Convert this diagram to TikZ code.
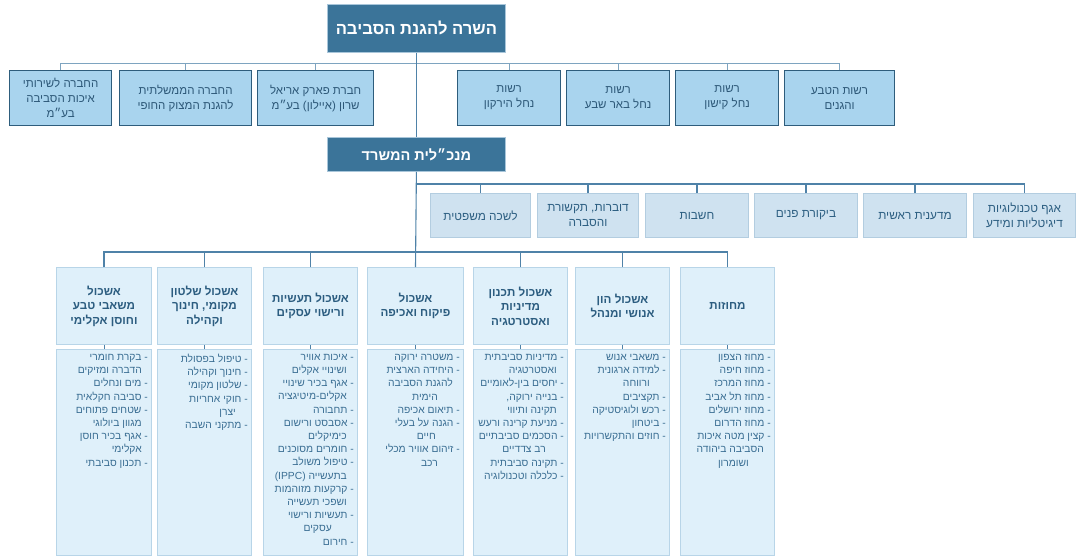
\documentclass[tikz,border=0pt]{standalone}
\usepackage{fontspec}
\setmainfont{Liberation Sans}
\newfontfamily\heb[Script=Hebrew]{Liberation Sans}
\TeXXeTstate=1
\newcommand\RL[1]{\beginR #1\endR}
\newcommand\ind[1]{\hspace*{#1pt}}
\definecolor{dk}{HTML}{3B7499}
\definecolor{dkline}{HTML}{A9C6DA}
\definecolor{rowfill}{HTML}{A9D4EE}
\definecolor{rowline}{HTML}{2E5D7C}
\definecolor{rowtxt}{HTML}{2D5878}
\definecolor{stfill}{HTML}{CFE2F0}
\definecolor{stline}{HTML}{B3CDE0}
\definecolor{sttxt}{HTML}{2D5F82}
\definecolor{hdfill}{HTML}{DFF0FA}
\definecolor{hdline}{HTML}{B8D5E8}
\definecolor{hdtxt}{HTML}{2C5D80}
\definecolor{bdtxt}{HTML}{3A6E93}
\definecolor{conn}{HTML}{4F82A8}
\definecolor{connlt}{HTML}{7EA4C0}
\tikzset{
  box/.style={anchor=north west, inner sep=0pt, align=center},
  dark/.style={box, fill=dk, draw=dkline, line width=0.8pt, text=white, font=\heb\bfseries},
  rowbox/.style={box, fill=rowfill, draw=rowline, line width=1.2pt, text=rowtxt, font=\heb\fontsize{11.5}{15}\selectfont},
  staffbox/.style={box, fill=stfill, draw=stline, line width=1pt, text=sttxt, font=\heb\fontsize{11.8}{15}\selectfont},
  headbox/.style={box, fill=hdfill, draw=hdline, line width=1pt, text=hdtxt, font=\heb\bfseries\fontsize{11.6}{14.5}\selectfont},
  bodybox/.style={box, fill=hdfill, draw=hdline, line width=1pt},
  bodytxt/.style={anchor=north east, inner sep=0pt, align=right, text=bdtxt, font=\heb\fontsize{10.3}{13.2}\selectfont},
  link/.style={draw=conn, line width=1.1pt},
  linklt/.style={draw=connlt, line width=1pt},
}
\begin{document}
\begin{tikzpicture}[x=1pt,y=-1pt]
\useasboundingbox (0,0) rectangle (1076,555);
% top
\node[dark, minimum width=178pt, minimum height=48pt, font=\heb\bfseries\fontsize{16.6}{20}\selectfont] (min) at (327,4) {\RL{השרה להגנת הסביבה}};
% row one
\node[rowbox, minimum width=102pt, minimum height=55pt] (A) at (9,70) {\RL{החברה לשירותי}\\\RL{איכות הסביבה}\\\RL{בע״מ}};
\node[rowbox, minimum width=132pt, minimum height=55pt] (B) at (119,70) {\RL{החברה הממשלתית}\\\RL{להגנת המצוק החופי}};
\node[rowbox, minimum width=116pt, minimum height=55pt] (C) at (257,70) {\RL{חברת פארק אריאל}\\\RL{שרון (איילון) בע״מ}};
\node[rowbox, minimum width=103pt, minimum height=55pt] (D) at (457,70) {\RL{רשות}\\\RL{נחל הירקון}};
\node[rowbox, minimum width=103pt, minimum height=55pt] (E) at (566,70) {\RL{רשות}\\\RL{נחל באר שבע}};
\node[rowbox, minimum width=103pt, minimum height=55pt] (F) at (675,70) {\RL{רשות}\\\RL{נחל קישון}};
\node[rowbox, minimum width=110pt, minimum height=55pt] (G) at (784,70) {\RL{רשות הטבע}\\\RL{והגנים}};
\draw[linklt] (A.north) -- ++(0,-7) -| (G.north);
\foreach \n in {B,C,D,E,F}{\draw[linklt] (\n.north) -- ++(0,-7);}
% director
\node[dark, minimum width=178pt, minimum height=34pt, font=\heb\bfseries\fontsize{14.5}{17}\selectfont] (dir) at (327,137) {\RL{מנכ״לית המשרד}};
\draw[link] (min.south) -- (dir.north);
% staff
\node[staffbox, minimum width=100pt, minimum height=44pt] (S1) at (430,193) {\RL{לשכה משפטית}};
\node[staffbox, minimum width=101pt, minimum height=44pt] (S2) at (537,193) {\RL{דוברות, תקשורת}\\\RL{והסברה}};
\node[staffbox, minimum width=103pt, minimum height=44pt] (S3) at (645,193) {\RL{חשבות}};
\node[staffbox, minimum width=103pt, minimum height=44pt] (S4) at (754,193) {\RL{ביקורת פנים}};
\node[staffbox, minimum width=103pt, minimum height=44pt] (S5) at (863,193) {\RL{מדענית ראשית}};
\node[staffbox, minimum width=102pt, minimum height=44pt] (S6) at (973,193) {\RL{אגף טכנולוגיות}\\\RL{דיגיטליות ומידע}};
\draw[link] (S6.north) -- ++(0,-9) coordinate (sr) -- (sr -| dir.south);
\foreach \n in {S1,S2,S3,S4,S5}{\draw[link] (\n.north) -- ++(0,-9);}
% clusters
\node[headbox, minimum width=95pt, minimum height=77pt] (H1) at (56,267) {\RL{אשכול}\\\RL{משאבי טבע}\\\RL{וחוסן אקלימי}};
\node[headbox, minimum width=94pt, minimum height=77pt] (H2) at (157,267) {\RL{אשכול שלטון}\\\RL{מקומי, חינוך}\\\RL{וקהילה}};
\node[headbox, minimum width=94pt, minimum height=77pt] (H3) at (263,267) {\RL{אשכול תעשיות}\\\RL{ורישוי עסקים}};
\node[headbox, minimum width=96pt, minimum height=77pt] (H4) at (367,267) {\RL{אשכול}\\\RL{פיקוח ואכיפה}};
\node[headbox, minimum width=94pt, minimum height=77pt] (H5) at (473,267) {\RL{אשכול תכנון}\\\RL{מדיניות}\\\RL{ואסטרטגיה}};
\node[headbox, minimum width=94pt, minimum height=77pt] (H6) at (575,267) {\RL{אשכול הון}\\\RL{אנושי ומנהל}};
\node[headbox, minimum width=94pt, minimum height=77pt] (H7) at (680,267) {\RL{מחוזות}};
\draw[link] (dir.south) -- (H4.north);
\draw[link] (H1.north) -- ++(0,-15) -| (H7.north);
\foreach \n in {H2,H3,H5,H6}{\draw[link] (\n.north) -- ++(0,-15);}
% bodies
\node[bodybox, minimum width=95pt, minimum height=206pt] (B1) at (56,349) {};
\node[bodybox, minimum width=94pt, minimum height=206pt] (B2) at (157,349) {};
\node[bodybox, minimum width=94pt, minimum height=206pt] (B3) at (263,349) {};
\node[bodybox, minimum width=96pt, minimum height=206pt] (B4) at (367,349) {};
\node[bodybox, minimum width=94pt, minimum height=206pt] (B5) at (473,349) {};
\node[bodybox, minimum width=94pt, minimum height=206pt] (B6) at (575,349) {};
\node[bodybox, minimum width=94pt, minimum height=206pt] (B7) at (680,349) {};
\foreach \i in {1,...,7}{\draw[link, line width=0.9pt] (H\i.south) -- (B\i.north);}
\node[bodytxt] (T1) at ([xshift=-4pt,yshift=-5pt]B1.north east) {\RL{- בקרת חומרי}\\\RL{\ind{6}הדברה ומזיקים}\\\RL{- מים ונחלים}\\\RL{- סביבה חקלאית}\\\RL{- שטחים פתוחים}\\\RL{\ind{6}מגוון ביולוגי}\\\RL{- אגף בכיר חוסן}\\\RL{\ind{6}אקלימי}\\\RL{- תכנון סביבתי}};
\node[bodytxt] (T2) at ([xshift=-4pt,yshift=-5pt]B2.north east) {\RL{- טיפול בפסולת}\\\RL{- חינוך וקהילה}\\\RL{- שלטון מקומי}\\\RL{- חוקי אחריות}\\\RL{\ind{12}יצרן}\\\RL{- מתקני השבה}};
\node[bodytxt] (T3) at ([xshift=-4pt,yshift=-5pt]B3.north east) {\RL{- איכות אוויר}\\\RL{\ind{7}ושינויי אקלים}\\\RL{- אגף בכיר שינויי}\\\RL{\ind{7}אקלים-מיטיגציה}\\\RL{- תחבורה}\\\RL{- אסבסט ורישום}\\\RL{\ind{7}כימיקלים}\\\RL{- חומרים מסוכנים}\\\RL{- טיפול משולב}\\\RL{\ind{7}בתעשייה \beginL(IPPC)\endL}\\\RL{- קרקעות מזוהמות}\\\RL{\ind{7}ושפכי תעשייה}\\\RL{- תעשיות ורישוי}\\\RL{\ind{22}עסקים}\\\RL{- חירום}};
\node[bodytxt] (T4) at ([xshift=-4pt,yshift=-5pt]B4.north east) {\RL{- משטרה ירוקה}\\\RL{- היחידה הארצית}\\\RL{\ind{7}להגנת הסביבה}\\\RL{\ind{22}הימית}\\\RL{- תיאום אכיפה}\\\RL{- הגנה על בעלי}\\\RL{\ind{24}חיים}\\\RL{- זיהום אוויר מכלי}\\\RL{\ind{22}רכב}};
\node[bodytxt] (T5) at ([xshift=-4pt,yshift=-5pt]B5.north east) {\RL{- מדיניות סביבתית}\\\RL{\ind{7}ואסטרטגיה}\\\RL{- יחסים בין-לאומיים}\\\RL{- בנייה ירוקה,}\\\RL{\ind{7}תקינה ותיווי}\\\RL{- מניעת קרינה ורעש}\\\RL{- הסכמים סביבתיים}\\\RL{\ind{18}רב צדדיים}\\\RL{- תקינה סביבתית}\\\RL{- כלכלה וטכנולוגיה}};
\node[bodytxt] (T6) at ([xshift=-4pt,yshift=-5pt]B6.north east) {\RL{- משאבי אנוש}\\\RL{- למידה ארגונית}\\\RL{\ind{16}ורווחה}\\\RL{- תקציבים}\\\RL{- רכש ולוגיסטיקה}\\\RL{- ביטחון}\\\RL{- חוזים והתקשרויות}};
\node[bodytxt] (T7) at ([xshift=-4pt,yshift=-5pt]B7.north east) {\RL{- מחוז הצפון}\\\RL{- מחוז חיפה}\\\RL{- מחוז המרכז}\\\RL{- מחוז תל אביב}\\\RL{- מחוז ירושלים}\\\RL{- מחוז הדרום}\\\RL{- קצין מטה איכות}\\\RL{\ind{7}הסביבה ביהודה}\\\RL{\ind{22}ושומרון}};
\end{tikzpicture}
\end{document}
